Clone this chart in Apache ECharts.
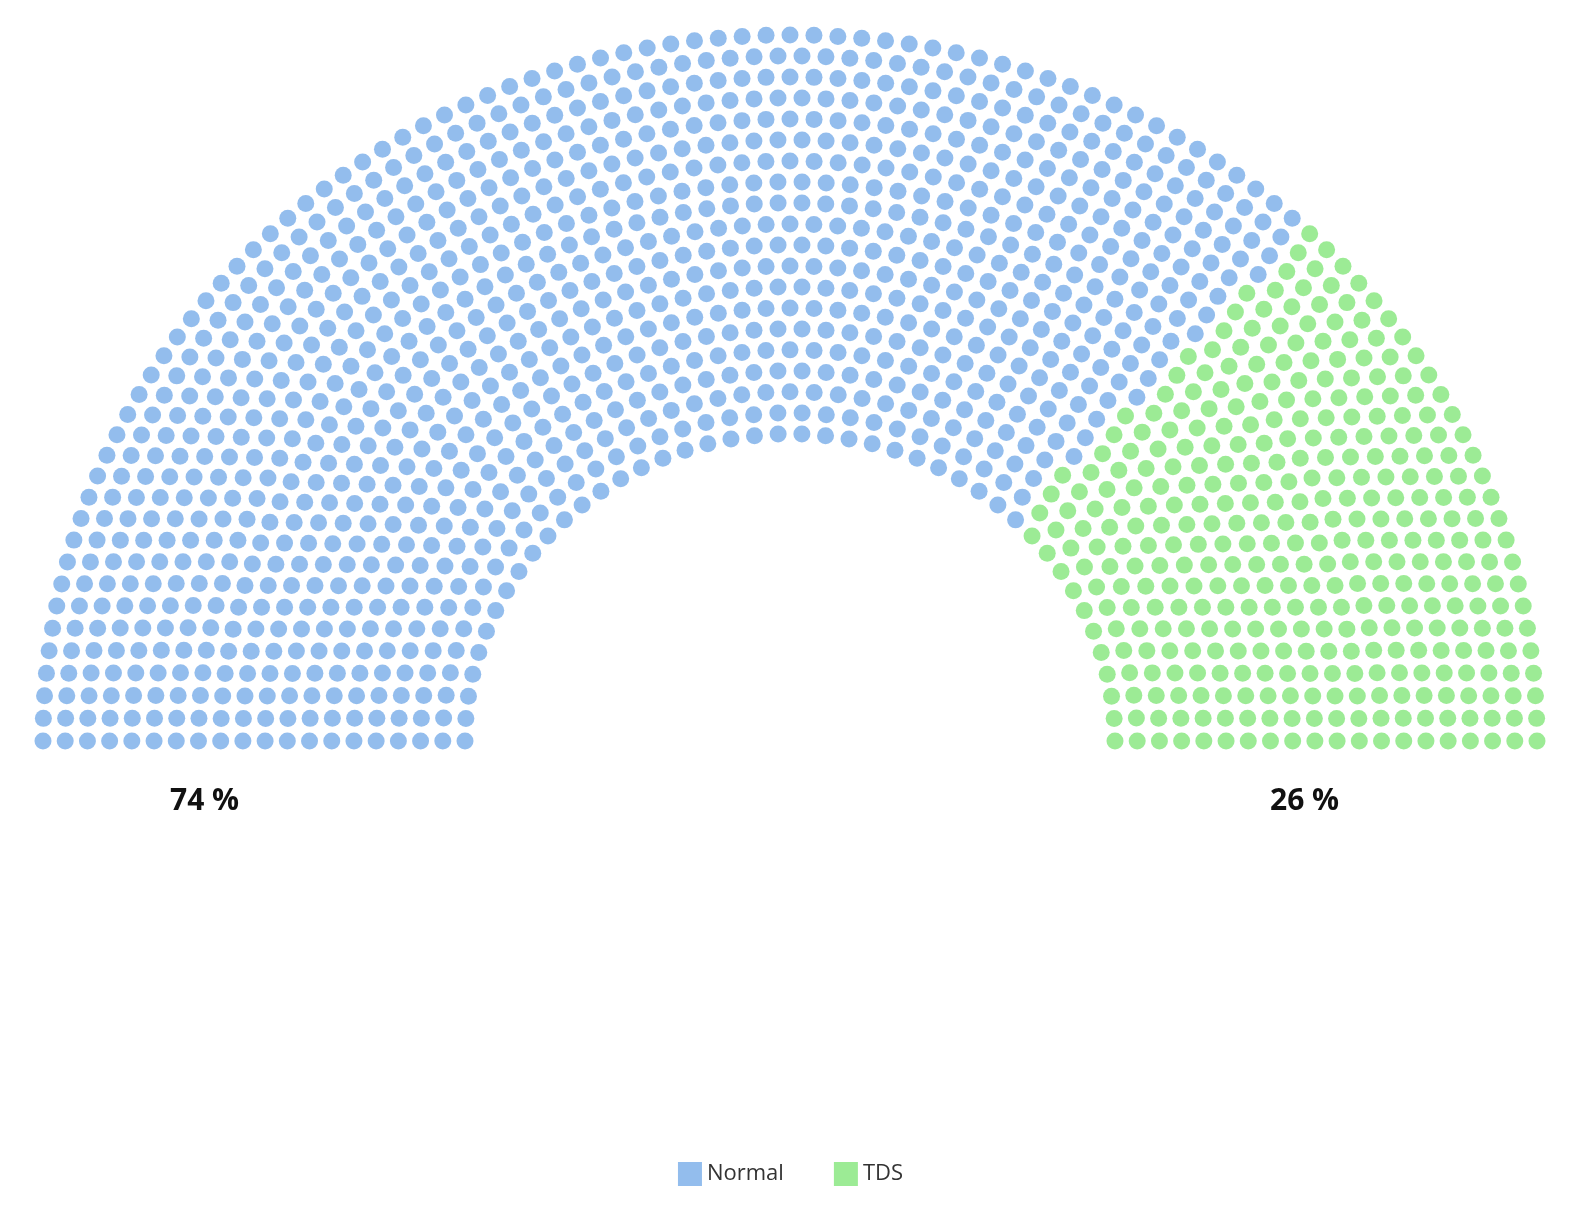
<!DOCTYPE html>
<html><head><meta charset="utf-8">
<script src="https://cdn.jsdelivr.net/npm/echarts@6/dist/echarts.min.js"></script>
<style>html,body{margin:0;padding:0;background:#fff}#c{width:1581px;height:1225px}</style>
</head><body><div id="c"></div>
<script>
const categories = ['Normal', 'TDS'];
const percents = [74, 26];
const colors = ['#78ade8', '#83e67b'];
const rows = 20, innerR = 325, outerR = 747, arcGap = 24;

// parliament layout: seats per row from row radius
const seats = [];
for (let i = 0; i < rows; i++) {
  const r = innerR + (outerR - innerR) * i / (rows - 1);
  const n = Math.round(Math.PI * r / arcGap) + 1;
  for (let j = 0; j < n; j++) seats.push([r, 180 - 180 * j / (n - 1)]);
}
seats.sort((a, b) => b[1] - a[1] || a[0] - b[0]);
const cut = Math.round(seats.length * percents[0] / 100);
const toXY = s => [s[0] * Math.cos(s[1] * Math.PI / 180), s[0] * Math.sin(s[1] * Math.PI / 180)];
const groups = [seats.slice(0, cut).map(toXY), seats.slice(cut).map(toXY)];

const chart = echarts.init(document.getElementById('c'));
chart.setOption({
  animation: false,
  grid: { left: 43, width: 1494, bottom: 484, height: 706 },
  xAxis: { type: 'value', min: -outerR, max: outerR, show: false },
  yAxis: { type: 'value', min: 0, max: outerR, show: false },
  legend: { bottom: 34, left: 'center', itemWidth: 24, itemHeight: 24, itemGap: 50, icon: 'rect',
    textStyle: { fontSize: 22, color: '#333', fontFamily: 'Open Sans' }, data: categories },
  series: categories.map((c, k) => ({
    name: c, type: 'scatter', symbolSize: 17,
    itemStyle: { color: colors[k] }, data: groups[k]
  })),
  graphic: [
    { type: 'text', left: 170, top: 786, style: { text: percents[0] + ' %', font: 'bold 30px "Open Sans"', fill: '#111' } },
    { type: 'text', left: 1270, top: 786, style: { text: percents[1] + ' %', font: 'bold 30px "Open Sans"', fill: '#111' } }
  ]
});
</script></body></html>
